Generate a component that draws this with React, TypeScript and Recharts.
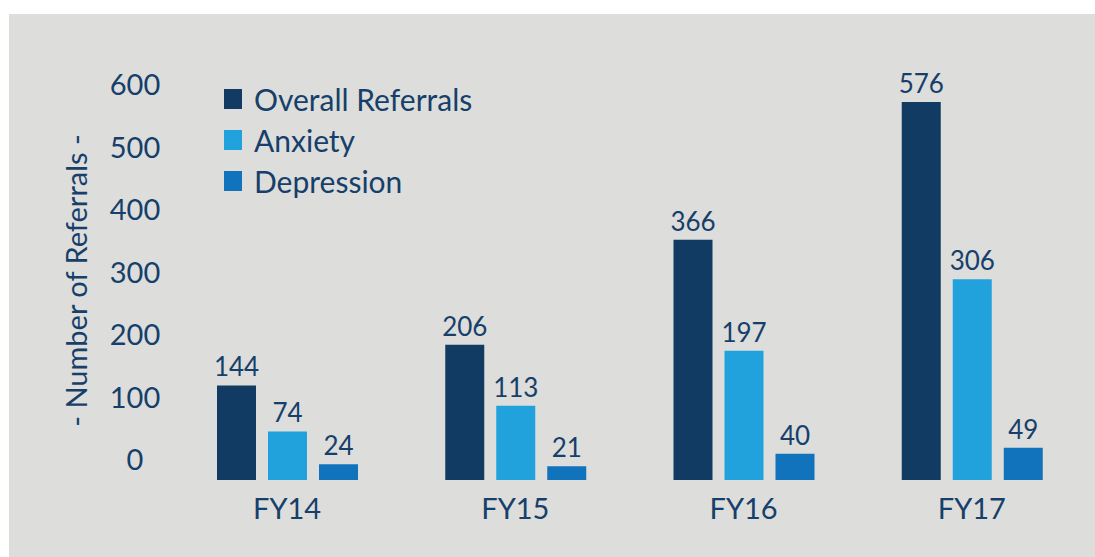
import { BarChart, Bar, XAxis, YAxis, LabelList } from "recharts";

const years = ["FY14", "FY15", "FY16", "FY17"];
const overall = [144, 206, 366, 576];
const anxiety = [74, 113, 197, 306];
const depression = [24, 21, 40, 49];
const yTicks = [0, 100, 200, 300, 400, 500, 600];

const series = [
  { key: "overall", name: "Overall Referrals", color: "#113b63" },
  { key: "anxiety", name: "Anxiety", color: "#21a2dc" },
  { key: "depression", name: "Depression", color: "#1073bb" },
];

const data = years.map((fy, i) => ({
  fy,
  overall: overall[i],
  anxiety: anxiety[i],
  depression: depression[i],
}));

const FONT = "Lato, 'Open Sans', sans-serif";
const TEXT = "#163f6a";

function TickLabel({ x, y, payload }: any) {
  return (
    <text x={x} y={y} dx={-25} dy="0.36em" textAnchor="middle" fill={TEXT} fontSize={29} fontFamily={FONT}>
      {payload.value}
    </text>
  );
}

function AxisTitle({ viewBox }: any) {
  const cx = viewBox.x + 68;
  const cy = viewBox.y + viewBox.height / 2 + 4;
  return (
    <text
      x={cx}
      y={cy}
      dy="0.36em"
      transform={`rotate(-90, ${cx}, ${cy})`}
      textAnchor="middle"
      fill={TEXT}
      fontSize={29}
      fontFamily={FONT}
    >
      - Number of Referrals -
    </text>
  );
}

export default function App() {
  return (
    <div style={{ position: "absolute", left: 9, top: 14, width: 1086, height: 543, background: "#dddddc" }}>
      <div style={{ position: "absolute", left: 215, top: 64, fontFamily: FONT, fontSize: 30, color: TEXT }}>
        {series.map((s) => (
          <div key={s.key} style={{ display: "flex", alignItems: "center", height: 41 }}>
            <span style={{ width: 18, height: 20, background: s.color, marginRight: 12, display: "inline-block" }} />
            <span>{s.name}</span>
          </div>
        ))}
      </div>
      <BarChart
        width={1086}
        height={543}
        data={data}
        margin={{ top: 59, right: 9, left: 0, bottom: 0 }}
        barSize={39}
        barGap={12}
      >
        <XAxis
          dataKey="fy"
          height={77}
          axisLine={false}
          tickLine={false}
          tickMargin={12}
          tick={{ fontSize: 29, fill: TEXT, fontFamily: FONT }}
        />
        <YAxis
          yAxisId="labels"
          width={164}
          domain={[-32, 619.2]}
          allowDataOverflow
          ticks={yTicks}
          axisLine={false}
          tickLine={false}
          tickMargin={7}
          tick={<TickLabel />}
          label={<AxisTitle />}
        />
        <YAxis yAxisId="bars" hide width={0} domain={[0, 620]} allowDataOverflow />
        {series.map((s) => (
          <Bar key={s.key} yAxisId="bars" dataKey={s.key} name={s.name} fill={s.color} isAnimationActive={false}>
            <LabelList dataKey={s.key} position="top" offset={9} fill={TEXT} fontSize={26} fontFamily={FONT} />
          </Bar>
        ))}
      </BarChart>
    </div>
  );
}
